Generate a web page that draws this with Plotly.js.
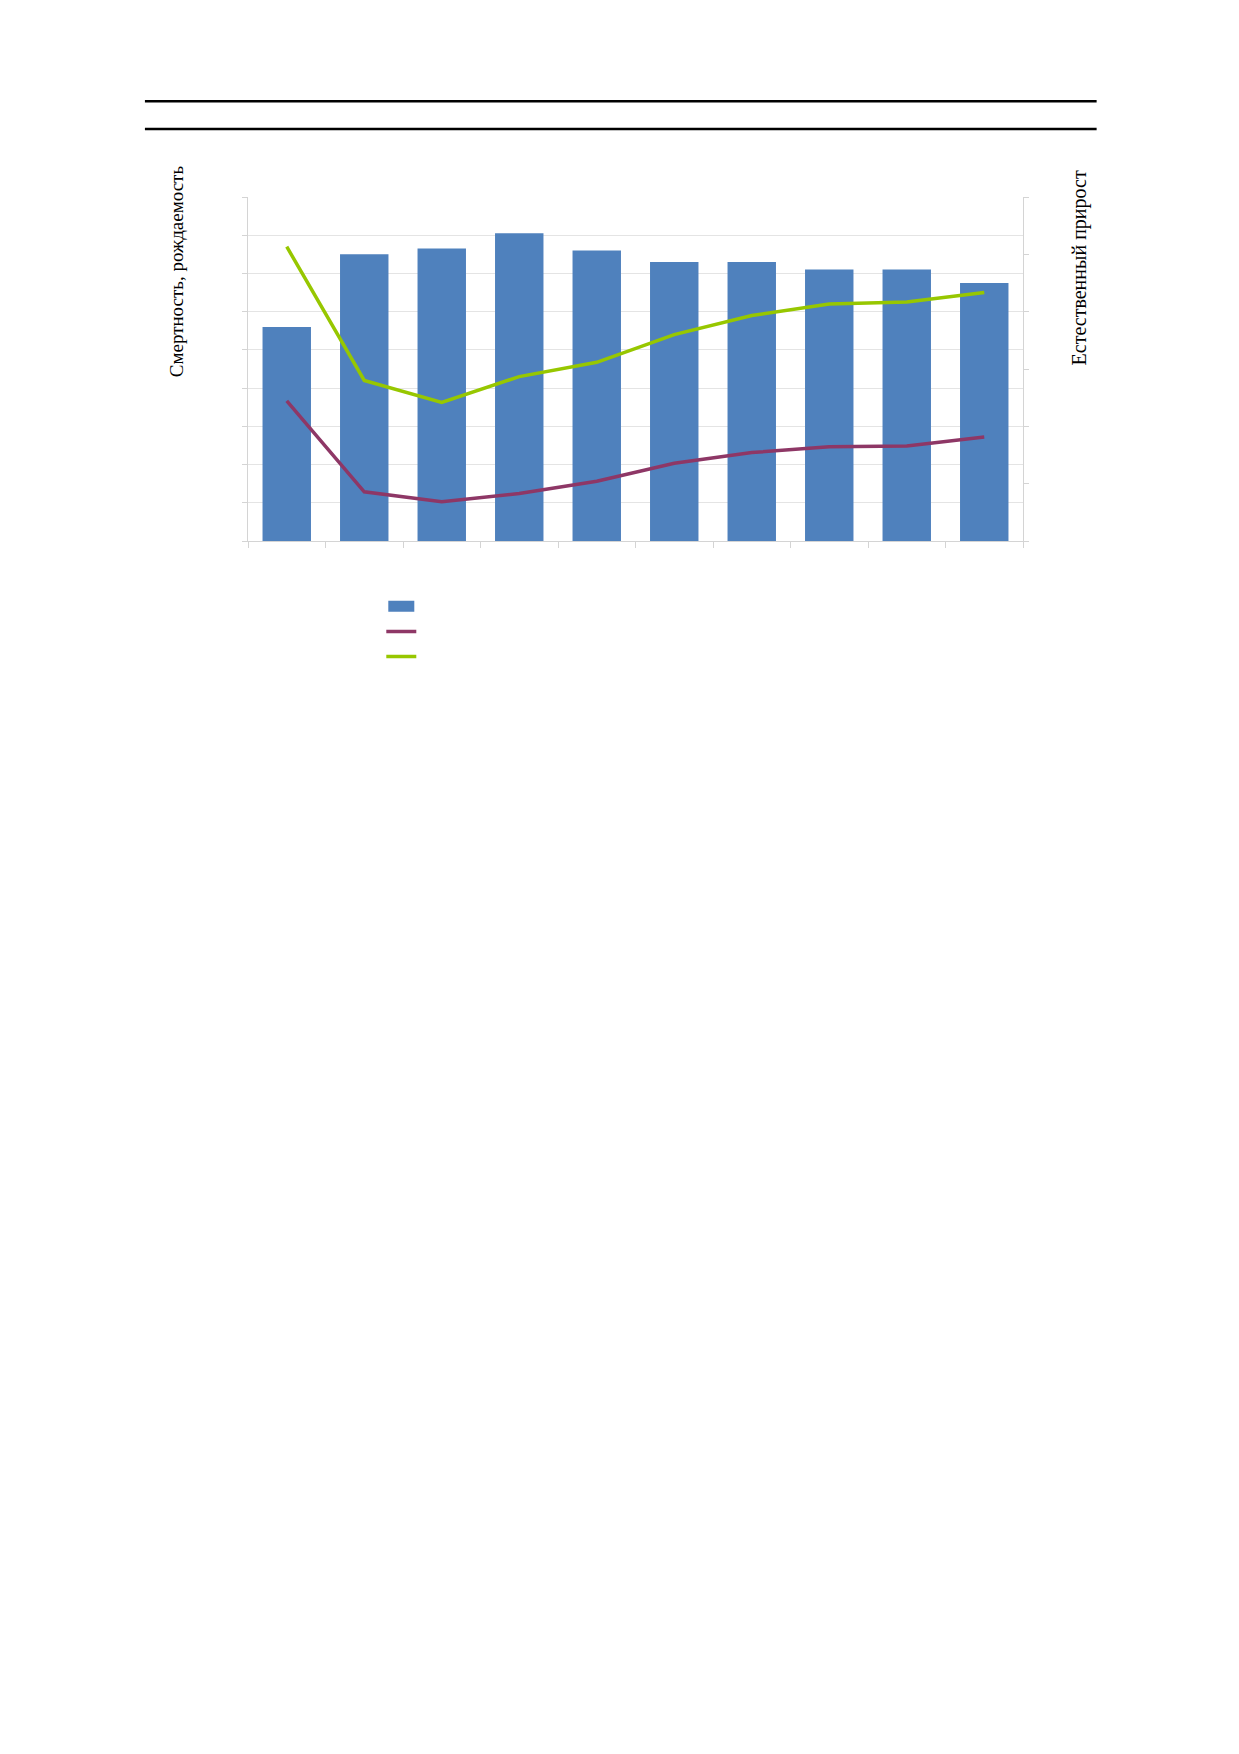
<!DOCTYPE html>
<html>
<head>
<meta charset="utf-8">
<script src="https://cdn.plot.ly/plotly-3.0.1.min.js"></script>
<style>
  body { margin: 0; background: #fff; }
</style>
</head>
<body>
<div id="plotlyChart"></div>
<script>
// years on the category axis (labels are not printed in the source)
let years = ['2005', '2006', '2007', '2008', '2009', '2010', '2011', '2012', '2013', '2014'];
// bars, left axis
let mortality = [11.2, 15.0, 15.3, 16.1, 15.2, 14.6, 14.6, 14.2, 14.2, 13.5];
// green line, left axis
let birthRate = [15.4, 8.4, 7.25, 8.6, 9.35, 10.8, 11.8, 12.4, 12.5, 13.0];
// purple line, right axis
let naturalGrowth = [5.1, -6.0, -7.2, -6.2, -4.7, -2.5, -1.2, -0.5, -0.4, 0.7];

let colors = {
  bar: '#4f81bd',
  purple: '#8e3766',
  green: '#97c700',
  grid: '#e4e4e4',
  axis: '#d4d4d4',
};
let serif = 'Liberation Serif, Times New Roman, serif';

let data = [
  {
    x: years,
    y: mortality,
    type: 'bar',
    name: '',
    marker: { color: colors.bar, line: { width: 0 } },
  },
  {
    x: years,
    y: naturalGrowth,
    yaxis: 'y2',
    type: 'scatter',
    mode: 'lines',
    name: '',
    line: { color: colors.purple, width: 3.5 },
  },
  {
    x: years,
    y: birthRate,
    type: 'scatter',
    mode: 'lines',
    name: '',
    line: { color: colors.green, width: 3.5 },
  },
];

let layout = {
  width: 1239,
  height: 1754,
  paper_bgcolor: '#ffffff',
  plot_bgcolor: '#ffffff',
  margin: { l: 248, r: 216, t: 197, b: 1213 },
  bargap: 0.375,
  showlegend: true,
  legend: {
    orientation: 'v',
    x: 0.172,
    y: -0.139,
    xanchor: 'left',
    yanchor: 'top',
    font: { size: 17, family: serif },
    traceorder: 'normal',
  },
  xaxis: {
    type: 'category',
    range: [-0.5, 9.5],
    showticklabels: false,
    ticks: 'outside',
    tickson: 'boundaries',
    ticklen: 6,
    tickcolor: colors.axis,
    showline: true,
    linecolor: colors.axis,
    showgrid: false,
  },
  yaxis: {
    range: [0, 18],
    dtick: 2,
    showticklabels: false,
    ticks: 'outside',
    ticklen: 5,
    tickcolor: colors.axis,
    showline: true,
    linecolor: colors.axis,
    gridcolor: colors.grid,
    zeroline: false,
  },
  yaxis2: {
    overlaying: 'y',
    side: 'right',
    range: [-12, 30],
    tick0: -12,
    dtick: 7,
    showticklabels: false,
    ticks: 'outside',
    ticklen: 5,
    tickcolor: colors.axis,
    showline: true,
    linecolor: colors.axis,
    showgrid: false,
    zeroline: false,
  },
  annotations: [
    {
      text: 'Смертность, рождаемость',
      xref: 'paper',
      yref: 'paper',
      x: -0.093,
      y: 0.784,
      textangle: -90,
      showarrow: false,
      xanchor: 'center',
      yanchor: 'middle',
      font: { family: serif, size: 19, color: '#000' },
    },
    {
      text: 'Естественный прирост',
      xref: 'paper',
      yref: 'paper',
      x: 1.073,
      y: 0.794,
      textangle: -90,
      showarrow: false,
      xanchor: 'center',
      yanchor: 'middle',
      font: { family: serif, size: 20, color: '#000' },
    },
  ],
  shapes: [
    // the two rules above the chart
    {
      type: 'line',
      xref: 'paper',
      yref: 'paper',
      x0: -0.133,
      x1: 1.095,
      y0: 1.2785,
      y1: 1.2785,
      line: { color: '#000', width: 2.5 },
    },
    {
      type: 'line',
      xref: 'paper',
      yref: 'paper',
      x0: -0.133,
      x1: 1.095,
      y0: 1.198,
      y1: 1.198,
      line: { color: '#000', width: 2.5 },
    },
  ],
};

Plotly.newPlot('plotlyChart', data, layout, { staticPlot: true }).then(gd => {
  // wider swatch for the bar series, like the original legend
  gd.querySelectorAll('.legend .legendpoints path.legendundefined, .legend .legendbar path').forEach(p => {
    p.setAttribute('d', 'M13,5.5H-13V-5.5H13Z');
  });
});
</script>
</body>
</html>
